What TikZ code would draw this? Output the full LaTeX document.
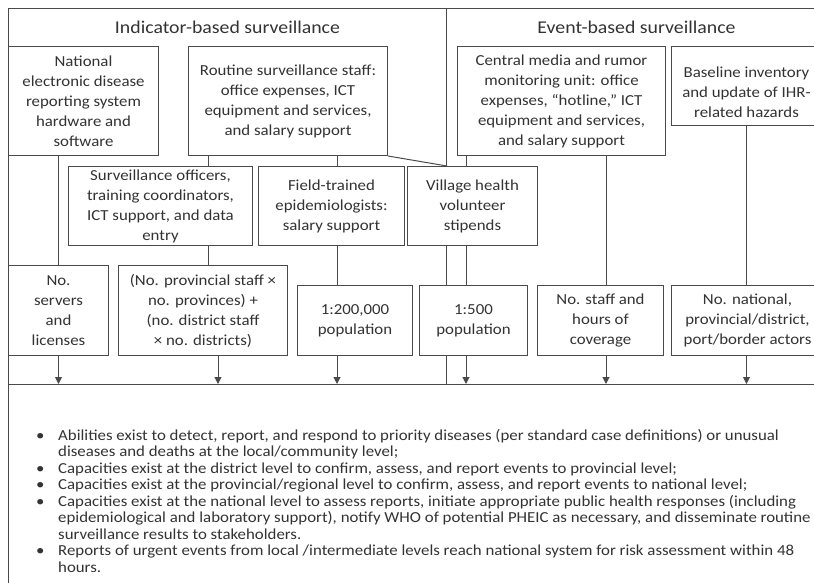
\documentclass[tikz,border=0pt]{standalone}
\usepackage{fontspec}
\setmainfont{Carlito}[FakeStretch=1.1]
\usepackage{tikz}
\usetikzlibrary{arrows.meta,positioning,calc}
\definecolor{linegray}{HTML}{4A4A4A}
\definecolor{textgray}{HTML}{333333}
\tikzstyle{frame} = [draw=linegray, line width=1pt, inner sep=0pt, anchor=north west]
\tikzstyle{box} = [draw=linegray, fill=white, line width=1pt, inner sep=0pt, anchor=north west, align=center, text=textgray, font=\fontsize{15.3}{20}\selectfont]
\tikzstyle{heading} = [text=textgray, font=\fontsize{18}{22}\selectfont]
\tikzstyle{link} = [draw=linegray, line width=1pt]
\tikzstyle{arrow} = [link, -{Triangle[length=7pt,width=7pt]}]

\begin{document}
\begin{tikzpicture}[x=1pt,y=-1pt]
    \clip (0,0) rectangle (814,583);
    \node[frame, minimum width=438pt, minimum height=376pt] (ibs) at (8,8) {};
    \node[frame, minimum width=380pt, minimum height=376pt] (ebs) at (446,8) {};
    \node[frame, minimum width=830pt, minimum height=220pt] (goals) at (8,384) {};
    \node[heading] (ibstitle) at ([yshift=-19pt]ibs.north) {Indicator-based surveillance};
    \node[heading] (ebstitle) at ([yshift=-19pt]ebs.north) {Event-based surveillance};

    % top row
    \node[box, minimum width=150pt, minimum height=109pt] (national) at (8,46) {National\\electronic disease\\reporting system\\hardware and\\software};
    \node[box, minimum width=199pt, minimum height=109pt] (routine) at (188,46) {Routine surveillance staff:\\office expenses, ICT\\equipment and services,\\and salary support};
    \node[box, minimum width=208pt, minimum height=109pt] (central) at (457,46) {Central media and rumor\\monitoring unit: office\\expenses, “hotline,” ICT\\equipment and services,\\and salary support};
    \node[box, minimum width=150pt, minimum height=79pt] (baseline) at (671,46) {\rule{0pt}{23pt}Baseline inventory\\and update of IHR-\\related hazards};

    % middle row
    \node[box, minimum width=184pt, minimum height=79pt] (surv) at (68,166) {Surveillance officers,\\training coordinators,\\ICT support, and data\\entry};
    \node[box, minimum width=146pt, minimum height=79pt] (field) at (258,166) {Field-trained\\epidemiologists:\\salary support};
    \node[box, minimum width=130pt, minimum height=79pt] (village) at (407,166) {Village health\\volunteer\\stipends};

    % unit rows
    \node[box, minimum width=100pt, minimum height=90pt] (servers) at (8,265) {No.\\servers\\and\\licenses};
    \node[box, minimum width=169pt, minimum height=90pt] (prov) at (118,265) {(No. provincial staff ×\\no. provinces) +\\(no. district staff\\× no. districts)};
    \node[box, minimum width=115pt, minimum height=70pt] (pop200) at (297,285) {1:200,000\\population};
    \node[box, minimum width=108pt, minimum height=70pt] (pop500) at (419,285) {1:500\\population};
    \node[box, minimum width=126pt, minimum height=70pt] (staff) at (537,285) {No. staff and\\hours of\\coverage};
    \node[box, minimum width=152pt, minimum height=70pt] (actors) at (671,285) {No. national,\\provincial/district,\\port/border actors};

    \coordinate (rA) at ([xshift=20pt]routine.south west);
    \coordinate (rB) at ([xshift=149pt]routine.south west);
    \coordinate (cA) at ([xshift=9pt]central.south west);
    \coordinate (cB) at ([xshift=149pt]central.south west);
    \coordinate (pA) at ([xshift=100pt]prov.south west);

    \draw[link] (national.south -| servers.north) -- (servers.north);
    \draw[link] (rA) -- (rA |- surv.north);
    \draw[link] (rB) -- (rB |- field.north);
    \draw[link] (routine.south east) -- (village.north -| ibs.east);
    \draw[link] (cA) -- (cA |- village.north);
    \draw[link] (cB) -- (cB |- staff.north);
    \draw[link] (baseline.south) -- (baseline.south |- actors.north);
    \draw[link] (surv.south -| rA) -- (prov.north -| rA);
    \draw[link] (field.south -| rB) -- (pop200.north -| rB);
    \draw[link] (village.south -| cA) -- (pop500.north -| cA);

    \draw[arrow] (servers.south) -- (goals.north -| servers.south);
    \draw[arrow] (pA) -- (goals.north -| pA);
    \draw[arrow] (pop200.south -| rB) -- (goals.north -| rB);
    \draw[arrow] (pop500.south -| cA) -- (goals.north -| cA);
    \draw[arrow] (staff.south -| cB) -- (goals.north -| cB);
    \draw[arrow] (actors.south -| baseline.south) -- (goals.north -| baseline.south);

    \node[anchor=north west, inner sep=0pt, align=left, text=textgray, font=\fontsize{15.3}{16.5}\selectfont] (goallist) at ([xshift=28pt, yshift=-45pt]goals.north west)
    {\makebox[22pt][l]{•}Abilities exist to detect, report, and respond to priority diseases (per standard case definitions) or unusual\\
     \hspace*{22pt}diseases and deaths at the local/community level;\\
     \makebox[22pt][l]{•}Capacities exist at the district level to confirm, assess, and report events to provincial level;\\
     \makebox[22pt][l]{•}Capacities exist at the provincial/regional level to confirm, assess, and report events to national level;\\
     \makebox[22pt][l]{•}Capacities exist at the national level to assess reports, initiate appropriate public health responses (including\\
     \hspace*{22pt}epidemiological and laboratory support), notify WHO of potential PHEIC as necessary, and disseminate routine\\
     \hspace*{22pt}surveillance results to stakeholders.\\
     \makebox[22pt][l]{•}Reports of urgent events from local /intermediate levels reach national system for risk assessment within 48\\
     \hspace*{22pt}hours.};
\end{tikzpicture}
\end{document}
